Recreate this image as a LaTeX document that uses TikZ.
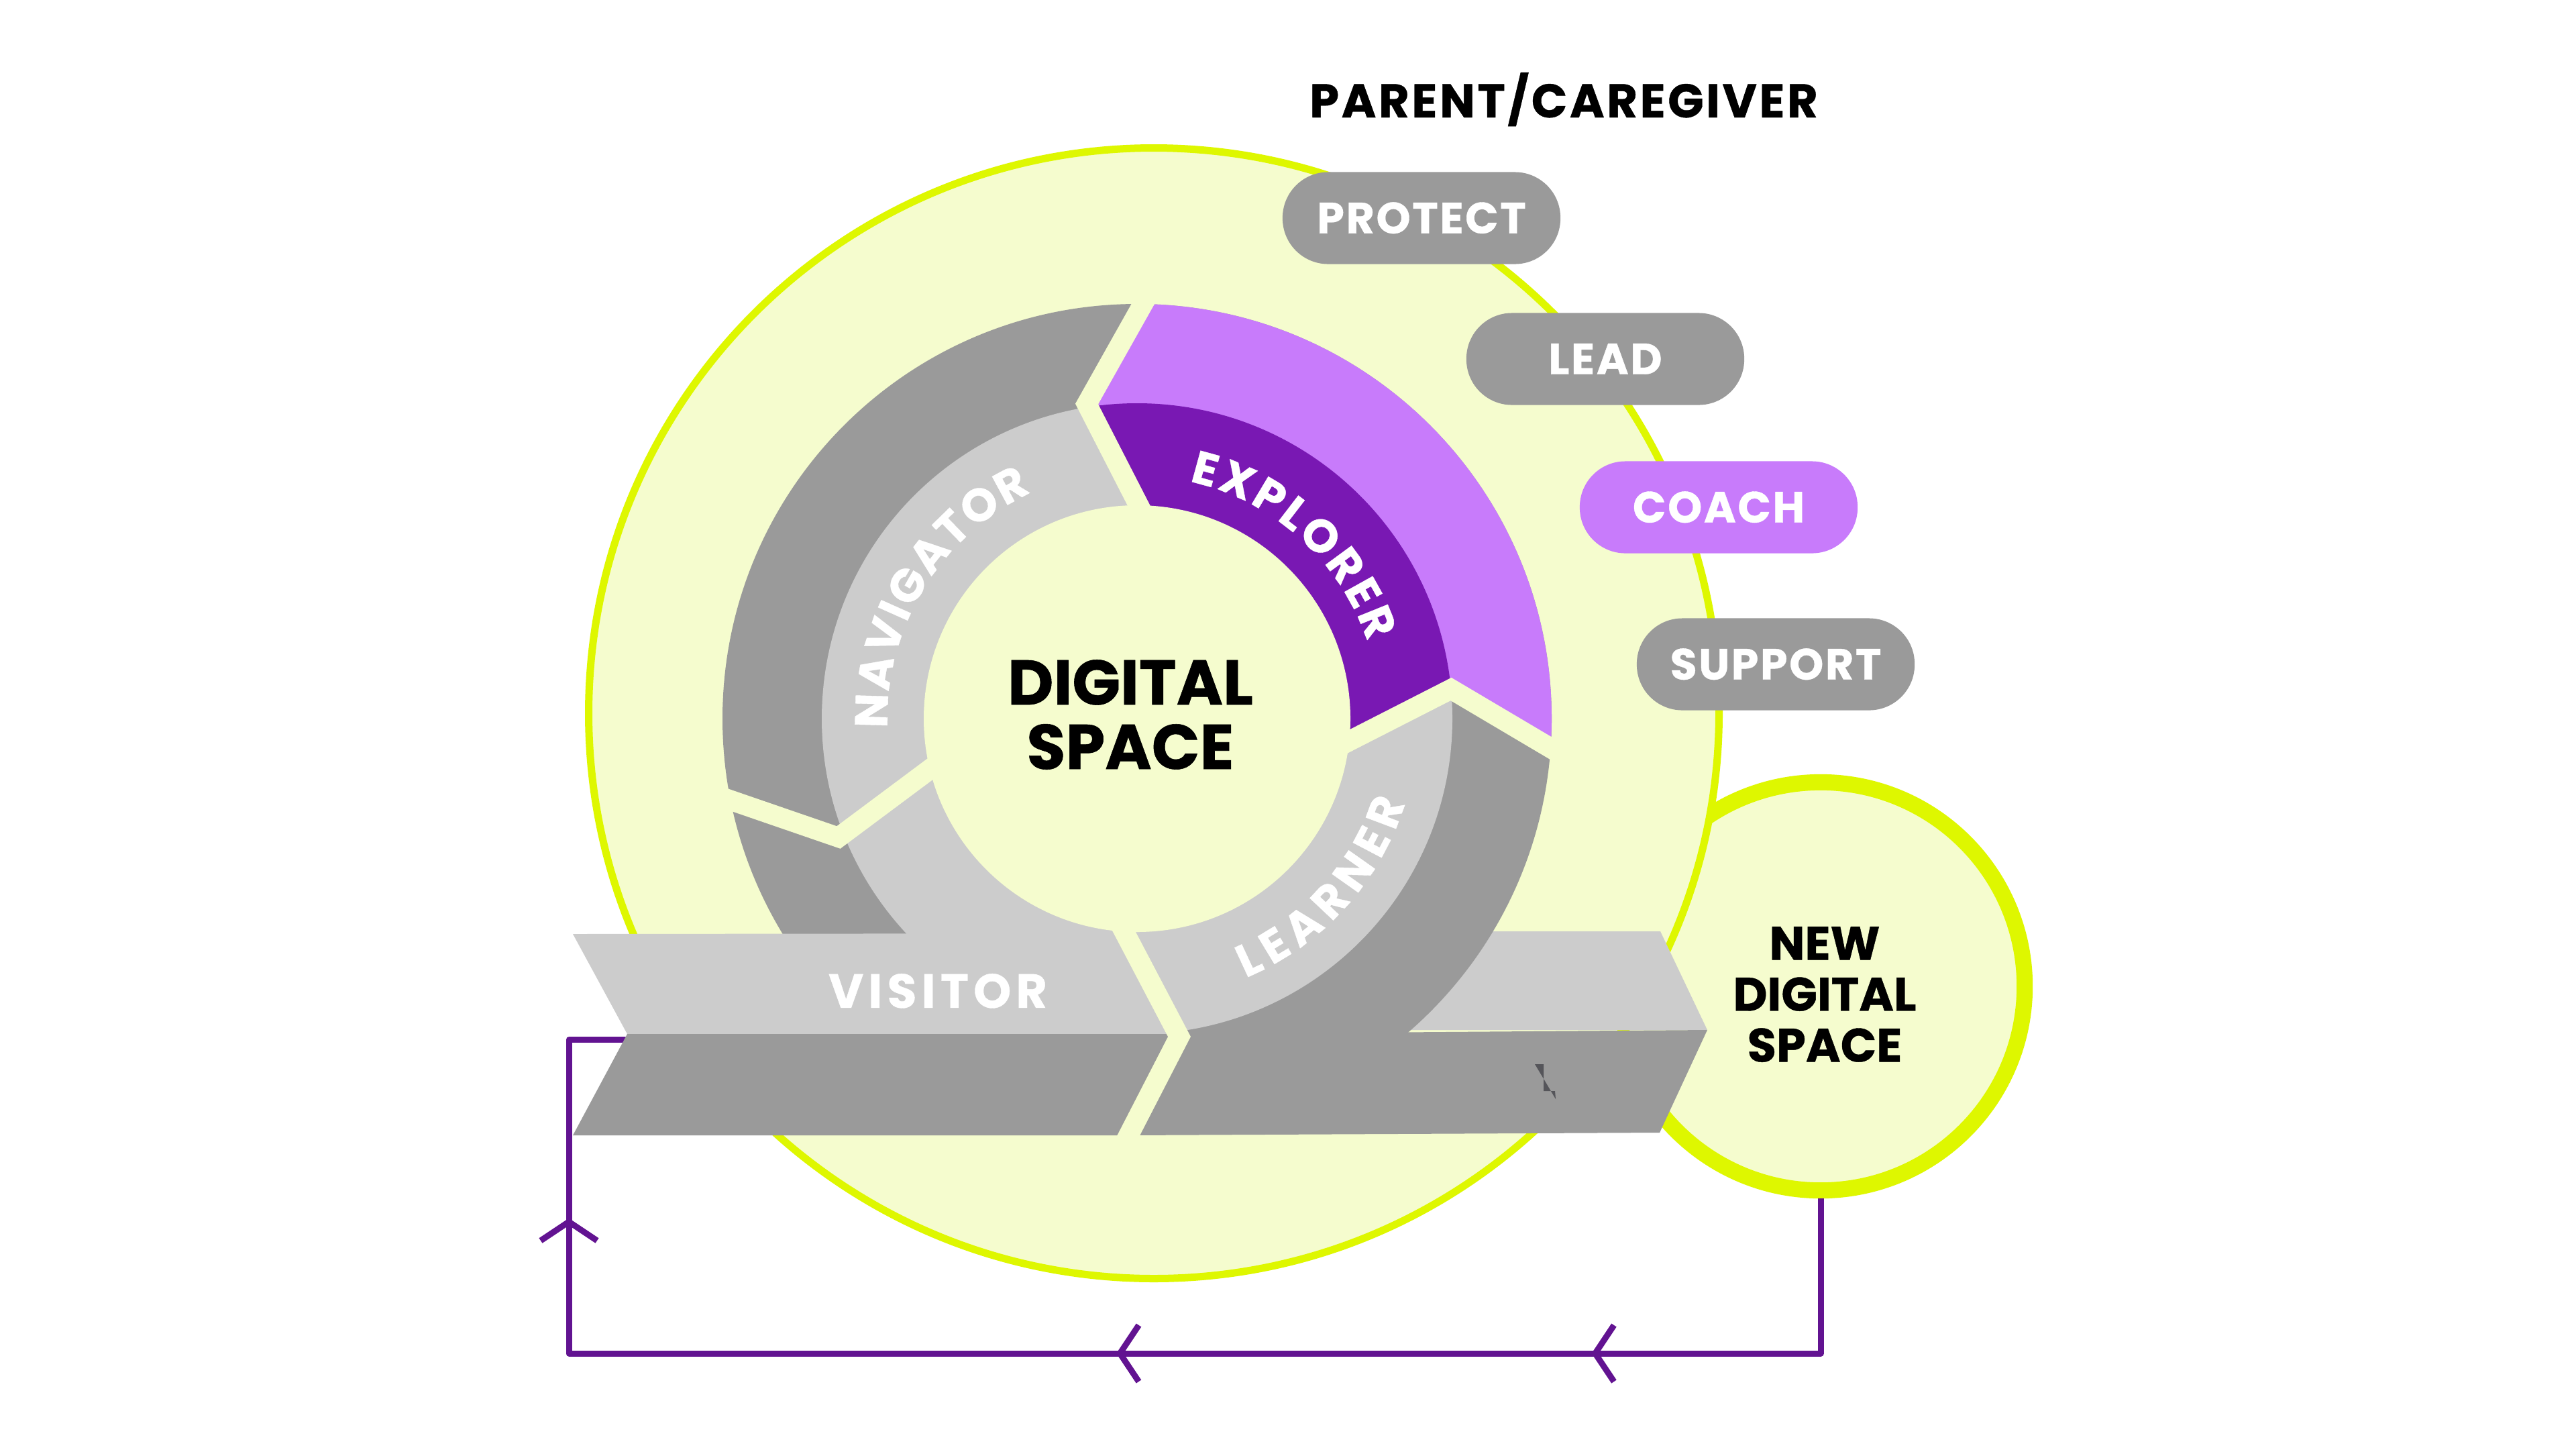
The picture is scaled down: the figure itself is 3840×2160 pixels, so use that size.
\documentclass[tikz,border=0pt]{standalone}
\usepackage{fontspec}
\setmainfont{Poppins}[BoldFeatures={FakeBold=0.6}]
\usetikzlibrary{decorations.text,decorations.markings,arrows.meta}
\definecolor{cfill}{RGB}{245,252,206}
\definecolor{clime}{RGB}{222,247,0}
\definecolor{dgray}{RGB}{154,154,154}
\definecolor{lgray}{RGB}{204,204,204}
\definecolor{lpurp}{RGB}{200,123,251}
\definecolor{dpurp}{RGB}{121,24,179}
\definecolor{cpurp}{RGB}{98,19,145}
\definecolor{artc}{RGB}{85,85,90}
\newcommand\ringfont{\fontsize{19.5}{19.5}\selectfont\bfseries}
\begin{document}
\begin{tikzpicture}[x=0.01cm,y=0.01cm,
  pill/.style={rectangle, rounded corners=6.8mm, minimum width=41.4mm, minimum height=13.7mm,
    inner sep=0pt, fill=dgray, text=white,
    font=\fontsize{18.5}{18.5}\selectfont\bfseries\addfontfeatures{LetterSpace=4},
    text height=12.9pt, text depth=0pt},
  bigcircle/.style={circle, draw=clime, fill=cfill, line width=1.1mm, minimum size=16.84cm, inner sep=0pt},
  newcircle/.style={circle, draw=clime, fill=cfill, line width=2.4mm, minimum size=6.08cm, inner sep=0pt},
  gapline/.style={draw=cfill, line width=3mm, line join=miter},
  topface/.style={fill=lgray},
  botface/.style={fill=dgray},
  conn/.style={draw=cpurp, line width=0.9mm, line join=round},
  barb/.style={postaction={decorate, decoration={markings,
    mark=at position 5.72cm with {\arrow{Straight Barb[length=2.8mm,width=8.4mm]}},
    mark=at position 12.80cm with {\arrow{Straight Barb[length=2.8mm,width=8.4mm]}},
    mark=at position 22.97cm with {\arrow{Straight Barb[length=2.8mm,width=8.4mm]}}}}},
  ringtext/.style={decorate, decoration={text along path, text align=fit to path, text color=white}}
]
\useasboundingbox (0,0) rectangle (3840,-2160);
\fill[white] (0,0) rectangle (3840,-2160);

% circles
\node[newcircle] (nds) at (2714,-1470) {};
\node[bigcircle] (parent) at (1720,-1063) {};

% connector
\coordinate (cL) at (848,-2017);
\coordinate (visin) at (945,-1549);
\draw[conn, barb] (nds.south) |- (cL) |- (visin);

% right bar
\fill[topface] (2050,-1388) -- (2475,-1388) -- (2545,-1535) -- (2050,-1535) -- cycle;
\fill[botface] (1758,-1541) -- (2545,-1535) -- (2474,-1688) -- (1682,-1692) -- cycle;

% ring
\coordinate (C) at (1695,-1071);
\fill[dgray] (C) circle[radius=618];
\fill[lgray] (C) circle[radius=470];
\begin{scope}
  \clip (1746,-378) -- (1704,-453) -- (1620,-602) -- (1697,-752) -- (1695,-1071)
    -- (2012,-1104) -- (2163,-1027) -- (2312,-1115) -- (2386,-1159) -- (2800,-1159)
    -- (2800,-300) -- (1746,-300) -- cycle;
  \fill[lpurp] (C) circle[radius=618];
  \fill[dpurp] (C) circle[radius=470];
\end{scope}
\fill[cfill] (C) circle[radius=318];

% visitor bar
\fill[topface] (854,-1392) -- (1677,-1391) -- (1758,-1541) -- (935,-1541) -- cycle;
\fill[botface] (935,-1541) -- (1758,-1541) -- (1682,-1692) -- (854,-1692) -- cycle;

% gaps
\draw[gapline] (1746,-378) -- (1620,-602) -- (1720,-797);
\draw[gapline] (1967,-1127) -- (2163,-1027) -- (2386,-1159);
\draw[gapline] (1035,-1174) -- (1250,-1248) -- (1423,-1119);
\draw[gapline] (1665,-1368) -- (1758,-1545) -- (1671,-1714);

% small mark
\fill[artc] (2288,-1586) -- (2301,-1586) -- (2301,-1626) -- (2318,-1626) -- (2319,-1638) -- cycle;

% ring labels
\path[ringtext, decoration={text={|\ringfont|NAVIGATOR}}] (C) ++(182.2:372) arc[start angle=182.2, end angle=115, radius=372];
\path[ringtext, decoration={text={|\ringfont|EXPLORER}}] (C) ++(77.6:362) arc[start angle=77.6, end angle=18.4, radius=362];
\path[ringtext, decoration={text={|\ringfont|LEARNER}}] (C) ++(-67.3:419) arc[start angle=-67.3, end angle=-17.5, radius=419];

% texts
\node[align=center, font=\fontsize{26.8}{27.3}\selectfont\bfseries] (ds) at (1685,-1065) {DIGITAL\\SPACE};
\node[align=center, font=\fontsize{20}{21.6}\selectfont\bfseries] (ndstext) at (2720,-1482) {NEW\\DIGITAL\\SPACE};
\node[text=white, font=\fontsize{20.3}{20.3}\selectfont\bfseries\addfontfeatures{LetterSpace=10},
  text height=14.2pt, text depth=0pt, inner sep=0pt] (visitor) at (1398,-1477) {VISITOR};
\node[anchor=base, font=\fontsize{20}{20}\selectfont\bfseries\addfontfeatures{LetterSpace=5}, inner sep=0pt]
  (title) at (2331,-175) {PARENT/CAREGIVER};

% pills
\node[pill] (protect) at (2119,-325) {PROTECT};
\node[pill] (lead) at (2393,-535) {LEAD};
\node[pill, fill=lpurp] (coach) at (2562,-756) {COACH};
\node[pill] (support) at (2647,-990) {SUPPORT};
\end{tikzpicture}
\end{document}
